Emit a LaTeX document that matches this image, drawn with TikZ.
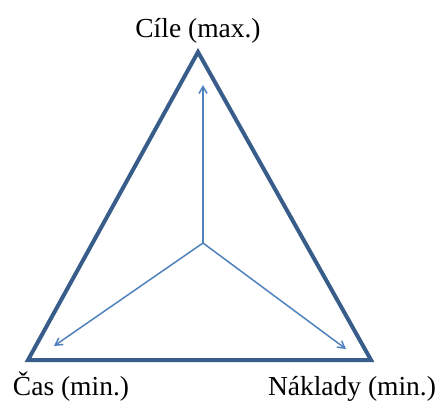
\documentclass[tikz,border=0pt]{standalone}
\usepackage{fontspec}
\setmainfont{Liberation Serif}
\usetikzlibrary{arrows.meta, positioning}
\definecolor{edgeblue}{RGB}{56,93,138}
\definecolor{axisblue}{RGB}{79,129,189}

\begin{document}
\begin{tikzpicture}[
    x=1pt, y=-1pt,
    corner/.style={inner sep=0pt, outer sep=0pt},
    label_node/.style={anchor=base, inner sep=0pt, font=\fontsize{27.5}{30}\selectfont},
    frame/.style={draw=edgeblue, line width=4pt, line join=miter},
    arrow/.style={-{Straight Barb[length=7pt, width=8pt]}, draw=axisblue, line width=1.5pt}
]
    \useasboundingbox (0,0) rectangle (443,402);

    % Corners
    \coordinate (top) at (198,52);
    \coordinate (left) at (28,360);
    \coordinate (right) at (371,360);
    \coordinate (center) at (203,243);

    % Arrow ends
    \coordinate (up_end) at (203,85);
    \coordinate (left_end) at (54,346);
    \coordinate (right_end) at (346,349);

    % Labels
    \node[label_node] (goals) at (198,37) {Cíle (max.)};
    \node[label_node] (time) at (71,395) {Čas (min.)};
    \node[label_node] (cost) at (352,395) {Náklady (min.)};

    % Triangle
    \draw[frame] (top) -- (right) -- (left) -- cycle;

    % Arrows
    \draw[arrow] (center) -- (up_end);
    \draw[arrow] (center) -- (left_end);
    \draw[arrow] (center) -- (right_end);
\end{tikzpicture}
\end{document}
